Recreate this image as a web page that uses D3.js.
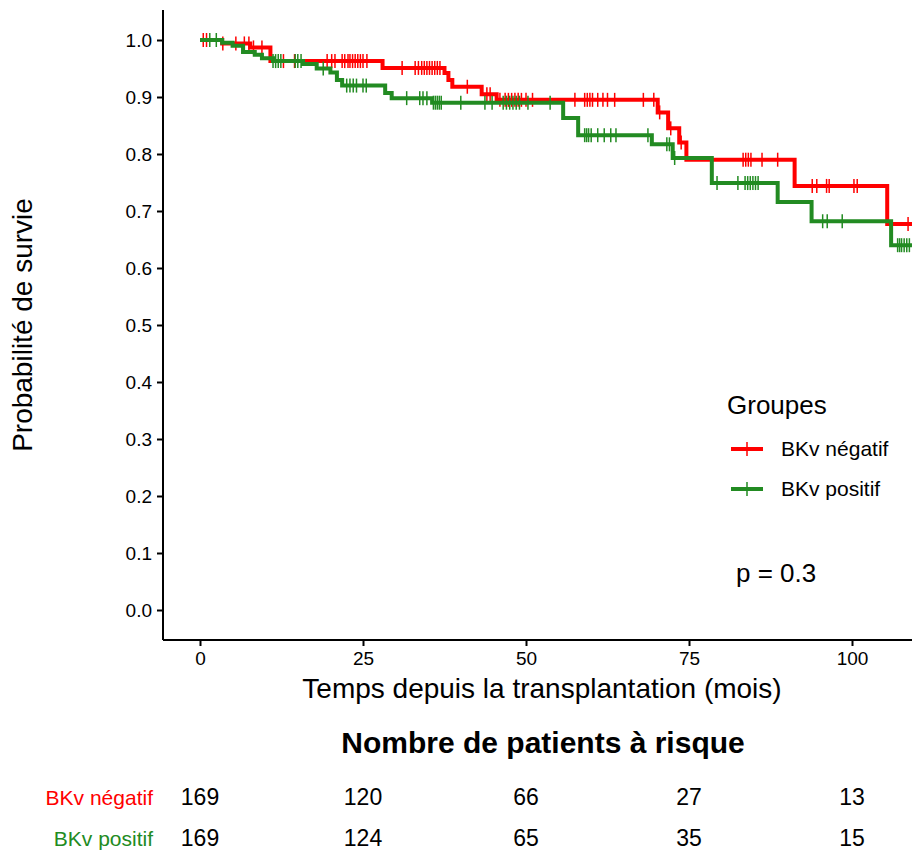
<!DOCTYPE html>
<html>
<head>
<meta charset="utf-8">
<script src="https://cdn.jsdelivr.net/npm/d3@7"></script>
<style>
  body { margin: 0; background: #fff; }
  text { font-family: "Liberation Sans", Arial, Helvetica, sans-serif; }
</style>
</head>
<body>
<div id="chart"></div>
<script>
// Kaplan-Meier step data
var redTimes = [0, 3.4, 7.7, 10.8, 28, 37.5, 38.1, 38.7, 43.2, 45.5, 70.2, 71.8, 73.5, 74.6, 91.2, 105.4];
var redSurv = [1.0, 0.994, 0.987, 0.963, 0.951, 0.942, 0.93, 0.918, 0.905, 0.895, 0.873, 0.845, 0.82, 0.79, 0.744, 0.677];
var redCensor = [0.5, 1, 3.5, 5.5, 6.8, 7.5, 8.2, 9.5, 12.8, 14.5, 19.5, 20.2, 20.7, 21.8, 22.2, 22.7, 23, 23.4, 23.8,
  24.2, 24.6, 25, 25.6, 31, 33, 33.5, 34, 34.4, 34.8, 35.2, 35.6, 36, 36.4, 36.8, 41, 44, 44.5, 46, 46.8, 47.3, 47.8,
  48.3, 48.8, 49.3, 50, 51, 57.5, 59, 59.4, 59.8, 60.2, 61, 61.8, 62.5, 63.6, 68, 69.6, 70.5, 72.2, 73.8, 83.3, 83.7,
  84.1, 84.5, 86.2, 88.6, 93.9, 94.6, 96.1, 96.5, 100.3, 100.8, 108.6];

var greenTimes = [0, 3.4, 5.0, 6.6, 8.4, 9.5, 11.2, 15.8, 17.9, 20, 21, 21.8, 28.4, 29.4, 35.6, 55.7, 58, 69.3, 72.5, 78.5, 88.6, 93.8, 106];
var greenSurv = [1.0, 0.995, 0.99, 0.979, 0.974, 0.968, 0.963, 0.958, 0.95, 0.943, 0.93, 0.92, 0.907, 0.898, 0.89, 0.863, 0.833, 0.817, 0.793, 0.749, 0.716, 0.682, 0.64];
var greenCensor = [1.5, 2.5, 11.2, 11.6, 12, 12.4, 14.6, 15, 15.5, 18.9, 22.5, 23, 23.5, 24, 25, 25.5, 31.7, 33.7, 34.2,
  34.8, 35.8, 36.1, 36.4, 36.7, 37, 40, 43.7, 44.8, 46.5, 47, 47.5, 48, 48.5, 49, 50.3, 53.7, 59, 59.3, 59.6, 60, 61,
  62, 63, 63.8, 68.7, 71.6, 72, 72.8, 79.3, 82.5, 83.6, 84, 84.4, 84.8, 85.2, 85.6, 95.5, 96.2, 98.5, 107, 107.3,
  107.6, 108, 108.4, 108.8];

var groupNames = ["BKv négatif", "BKv positif"];
var groupColors = ["#ff0000", "#228b22"];
var riskTimes = [0, 25, 50, 75, 100];
var riskRed = [169, 120, 66, 27, 13];
var riskGreen = [169, 124, 65, 35, 15];
var xTicks = [0, 25, 50, 75, 100];
var yTicks = [0, 0.1, 0.2, 0.3, 0.4, 0.5, 0.6, 0.7, 0.8, 0.9, 1.0];
var endTime = 109.2;

var svgWidth = 912;
var svgHeight = 852;

var svg = d3.select("#chart")
  .append("svg")
  .attr("width", svgWidth)
  .attr("height", svgHeight);

// scales
var xScale = d3.scaleLinear().domain([0, 100]).range([200, 852]);
var yScale = d3.scaleLinear().domain([0, 1]).range([610, 40]);

// axes
var xAxis = svg.append("g")
  .attr("transform", "translate(0, 640)")
  .call(d3.axisBottom(xScale).tickValues(xTicks).tickSize(6).tickPadding(6).tickFormat(d3.format("d")));
xAxis.select(".domain").attr("d", "M163,0H912");

var yAxis = svg.append("g")
  .attr("transform", "translate(163, 0)")
  .call(d3.axisLeft(yScale).tickValues(yTicks).tickSize(6).tickPadding(5).tickFormat(d3.format(".1f")));
yAxis.select(".domain").attr("d", "M0,10V640");

svg.selectAll(".domain").attr("stroke", "#000").attr("stroke-width", 2);
svg.selectAll(".tick line").attr("stroke", "#000").attr("stroke-width", 2);
svg.selectAll(".tick text")
  .attr("fill", "#000")
  .style("font-size", "19px")
  .style("font-family", "Liberation Sans, Arial, sans-serif");

// axis titles
svg.append("text")
  .attr("x", 542)
  .attr("y", 698)
  .attr("text-anchor", "middle")
  .style("font-size", "28px")
  .text("Temps depuis la transplantation (mois)");

svg.append("text")
  .attr("transform", "translate(32, 325) rotate(-90)")
  .attr("text-anchor", "middle")
  .style("font-size", "28px")
  .text("Probabilité de survie");

// step survival value at time t
function survAt(times, surv, t) {
  var i = d3.bisectRight(times, t) - 1;
  return surv[Math.max(i, 0)];
}

function drawCurve(times, surv, censor, color) {
  var pts = times.map((t, i) => [t, surv[i]]);
  pts.push([endTime, surv[surv.length - 1]]);

  var line = d3.line()
    .x(d => xScale(d[0]))
    .y(d => yScale(d[1]))
    .curve(d3.curveStepAfter);

  svg.append("path")
    .datum(pts)
    .attr("fill", "none")
    .attr("stroke", color)
    .attr("stroke-width", 4)
    .attr("d", line);

  svg.append("g").selectAll("line")
    .data(censor)
    .enter()
    .append("line")
    .attr("x1", d => xScale(d))
    .attr("x2", d => xScale(d))
    .attr("y1", d => yScale(survAt(times, surv, d)) - 7)
    .attr("y2", d => yScale(survAt(times, surv, d)) + 7)
    .attr("stroke", color)
    .attr("stroke-width", 1.5);
}

drawCurve(redTimes, redSurv, redCensor, groupColors[0]);
drawCurve(greenTimes, greenSurv, greenCensor, groupColors[1]);

// legend
var legend = svg.append("g");
legend.append("text")
  .attr("x", 727)
  .attr("y", 414)
  .style("font-size", "26px")
  .text("Groupes");

groupNames.forEach(function(name, i) {
  var ly = 449 + i * 40;
  legend.append("line")
    .attr("x1", 731).attr("x2", 763)
    .attr("y1", ly).attr("y2", ly)
    .attr("stroke", groupColors[i])
    .attr("stroke-width", 4);
  legend.append("line")
    .attr("x1", 747).attr("x2", 747)
    .attr("y1", ly - 7).attr("y2", ly + 7)
    .attr("stroke", groupColors[i])
    .attr("stroke-width", 1.5);
  legend.append("text")
    .attr("x", 781)
    .attr("y", ly + 7)
    .style("font-size", "21px")
    .text(name);
});

svg.append("text")
  .attr("x", 736)
  .attr("y", 582)
  .style("font-size", "26px")
  .text("p = 0.3");

// risk table
svg.append("text")
  .attr("x", 543)
  .attr("y", 753)
  .attr("text-anchor", "middle")
  .style("font-size", "30px")
  .style("font-weight", "bold")
  .text("Nombre de patients à risque");

[riskRed, riskGreen].forEach(function(row, i) {
  var ry = 805 + i * 41;
  svg.append("text")
    .attr("x", 153)
    .attr("y", ry)
    .attr("text-anchor", "end")
    .attr("fill", groupColors[i])
    .style("font-size", "21px")
    .text(groupNames[i]);

  svg.append("g").selectAll("text")
    .data(row)
    .enter()
    .append("text")
    .attr("x", (d, j) => xScale(riskTimes[j]))
    .attr("y", ry)
    .attr("text-anchor", "middle")
    .style("font-size", "23px")
    .text(d => d);
});
</script>
</body>
</html>
